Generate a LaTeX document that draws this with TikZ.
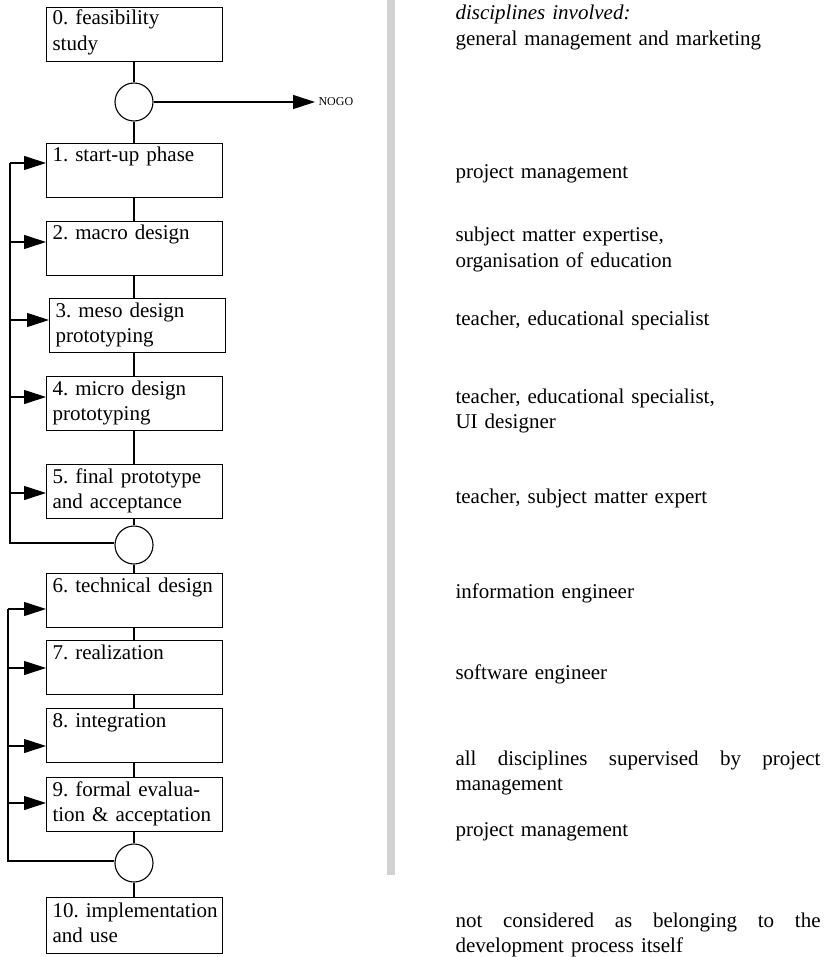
\documentclass[tikz,border=0pt]{standalone}
\usepackage{fontspec}
\setmainfont{Liberation Serif}
\usetikzlibrary{arrows.meta}
\frenchspacing
\begin{document}
\begin{tikzpicture}[x=1pt,y=-1pt,line width=1.1pt,
  phase/.style={draw,rectangle,minimum width=176pt,minimum height=54pt,anchor=north west,inner sep=0pt},
  phasetext/.style={anchor=base west,inner sep=0pt,text width=172pt,align=left,font=\frenchspacing\fontsize{21}{25.5}\selectfont},
  gate/.style={draw,circle,minimum size=38pt,inner sep=0pt},
  feed/.style={-{Triangle[length=22pt,width=14pt]}},
  role/.style={anchor=base west,inner sep=0pt,text width=366pt,align=left,font=\frenchspacing\fontsize{21}{25.5}\selectfont}]
\useasboundingbox (0,0) rectangle (825,957);

% phase boxes
\node[phase] (b0) at (46,7) {};
\node[phase] (b1) at (46,143) {};
\node[phase] (b2) at (46,221) {};
\node[phase] (b3) at (49,298) {};
\node[phase] (b4) at (46,376) {};
\node[phase] (b5) at (46,464) {};
\node[phase] (b6) at (46,573) {};
\node[phase] (b7) at (46,640) {};
\node[phase] (b8) at (46,708) {};
\node[phase] (b9) at (46,777) {};
\node[phase,minimum height=56pt] (b10) at (46,897) {};

% phase labels
\node[phasetext] (t0) at ([shift={(6pt,-18pt)}]b0.north west) {0. feasibility\\study};
\node[phasetext] (t1) at ([shift={(6pt,-19pt)}]b1.north west) {1. start-up phase};
\node[phasetext] (t2) at ([shift={(6pt,-19pt)}]b2.north west) {2. macro design};
\node[phasetext] (t3) at ([shift={(6pt,-19pt)}]b3.north west) {3. meso design\\prototyping};
\node[phasetext] (t4) at ([shift={(6pt,-19pt)}]b4.north west) {4. micro design\\prototyping};
\node[phasetext] (t5) at ([shift={(6pt,-19pt)}]b5.north west) {5. final prototype\\and acceptance};
\node[phasetext] (t6) at ([shift={(6pt,-19pt)}]b6.north west) {6. technical design};
\node[phasetext] (t7) at ([shift={(6pt,-19pt)}]b7.north west) {7. realization};
\node[phasetext] (t8) at ([shift={(6pt,-19pt)}]b8.north west) {8. integration};
\node[phasetext] (t9) at ([shift={(6pt,-19pt)}]b9.north west) {9. formal evalua-\\tion \& acceptation};
\node[phasetext] (t10) at ([shift={(6pt,-20pt)}]b10.north west) {10. implementation\\and use};

% decision gates
\node[gate] (g1) at (134,102) {};
\node[gate] (g2) at (134,545) {};
\node[gate] (g3) at (134,863) {};

% main flow
\draw (b0.south -| g1) -- (g1.north);
\draw (g1.south) -- (b1.north -| g1);
\draw (b1.south -| g1) -- (b2.north -| g1);
\draw (b2.south -| g1) -- (b3.north -| g1);
\draw (b3.south -| g1) -- (b4.north -| g1);
\draw (b4.south -| g1) -- (b5.north -| g1);
\draw (b5.south -| g1) -- (g2.north);
\draw (g2.south) -- (b6.north -| g1);
\draw (b6.south -| g1) -- (b7.north -| g1);
\draw (b7.south -| g1) -- (b8.north -| g1);
\draw (b8.south -| g1) -- (b9.north -| g1);
\draw (b9.south -| g1) -- (g3.north);
\draw (g3.south) -- (b10.north -| g1);

% no-go exit
\node[anchor=west,inner sep=3pt,font=\fontsize{12}{14}\selectfont] (nogo) at (315,102) {NOGO};
\draw[feed] (g1.east) -- (nogo.west);

% feedback loop of the design phases
\coordinate (la1) at (10,163);
\coordinate (la2) at (10,242);
\coordinate (la3) at (10,320);
\coordinate (la4) at (10,397);
\coordinate (la5) at (10,493);
\coordinate (lab) at (10,543);
\draw (g2.west |- lab) -- (lab) -- (la1);
\draw[feed] (la1) -- (b1.west |- la1);
\draw[feed] (la2) -- (b2.west |- la2);
\draw[feed] (la3) -- (b3.west |- la3);
\draw[feed] (la4) -- (b4.west |- la4);
\draw[feed] (la5) -- (b5.west |- la5);

% feedback loop of the realization phases
\coordinate (lb6) at (8,609);
\coordinate (lb7) at (8,668);
\coordinate (lb8) at (8,746);
\coordinate (lb9) at (8,803);
\coordinate (lbb) at (8,861);
\draw (g3.west |- lbb) -- (lbb) -- (lb6);
\draw[feed] (lb6) -- (b6.west |- lb6);
\draw[feed] (lb7) -- (b7.west |- lb7);
\draw[feed] (lb8) -- (b8.west |- lb8);
\draw[feed] (lb9) -- (b9.west |- lb9);

% separator
\fill[gray!35] (387,0) rectangle (395,875);

% disciplines column
\node[role] (r0) at (455,20) {\textit{disciplines involved:}\\general management and marketing};
\node[role] (r1) at (455,179) {project management};
\node[role] (r2) at (455,242) {subject matter expertise,\\organisation of education};
\node[role] (r3) at (455,325) {teacher, educational specialist};
\node[role] (r4) at (455,403) {teacher, educational specialist,\\UI designer};
\node[role] (r5) at (455,503) {teacher, subject matter expert};
\node[role] (r6) at (455,598) {information engineer};
\node[role] (r7) at (455,679) {software engineer};
\node[role] (r8) at (455,765) {\makebox[365pt]{all\hfill disciplines\hfill supervised\hfill by\hfill project}\\management};
\node[role] (r9) at (455,836) {project management};
\node[role] (r10) at (455,927) {\makebox[365pt]{not\hfill considered\hfill as\hfill belonging\hfill to\hfill the}\\development process itself};
\end{tikzpicture}
\end{document}
